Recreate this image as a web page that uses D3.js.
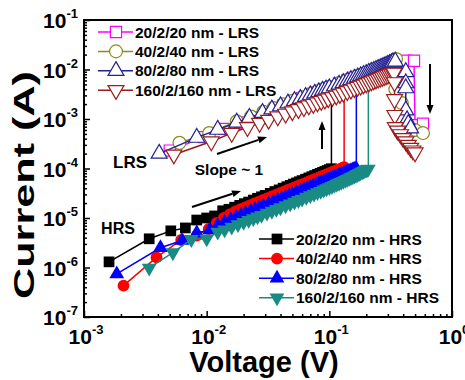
<!DOCTYPE html>
<html>
<head>
<meta charset="utf-8">
<script src="https://cdn.jsdelivr.net/npm/d3@7"></script>
<style>
body { margin: 0; background: #fff; }
svg { display: block; }
text { font-family: "Liberation Sans", Arial, sans-serif; font-weight: bold; }
</style>
</head>
<body>
<div id="chart"></div>
<script>
// tick labels (exponents of ten)
var xExponents = [-3, -2, -1, 0];
var yExponents = [-7, -6, -5, -4, -3, -2, -1];

// HRS sweeps: [voltage (V), current (A)]
var hrs20 = [[0.0016,1.3e-6],[0.0034,3.8e-6],[0.0051,5.5e-6],[0.0067,6.3e-6],[0.0083,9.1e-6],[0.0100,1.0e-5],
  [0.0116,1.1e-5],[0.0135,1.4e-5],[0.0152,1.5e-5],[0.0169,1.65e-5],[0.0186,1.8e-5],[0.0203,1.95e-5],[0.022,2.1e-5],
  [0.024,2.3e-5],[0.026,2.5e-5],[0.028,2.68e-5],[0.030,2.86e-5],[0.033,3.15e-5],[0.036,3.43e-5],[0.039,3.7e-5],
  [0.042,4.0e-5],[0.045,4.28e-5],[0.048,4.56e-5],[0.051,4.85e-5],[0.054,5.12e-5],[0.057,5.4e-5],[0.060,5.7e-5],
  [0.064,6.07e-5],[0.068,6.45e-5],[0.072,6.83e-5],[0.076,7.2e-5],[0.080,7.6e-5],[0.084,7.97e-5],[0.088,8.35e-5],
  [0.092,8.72e-5],[0.096,9.1e-5],[0.100,9.5e-5],[0.104,9.9e-5]];
var hrs40 = [[0.0021,4.3e-7],[0.0039,1.6e-6],[0.0062,3.6e-6],[0.0083,4.4e-6],[0.0104,6.0e-6],[0.0121,8.0e-6],
  [0.0138,1.0e-5],[0.0155,1.2e-5],[0.0172,1.36e-5],[0.0189,1.5e-5],[0.0206,1.64e-5],[0.0225,1.8e-5],[0.0245,1.96e-5],
  [0.0265,2.12e-5],[0.0285,2.28e-5],[0.031,2.48e-5],[0.034,2.72e-5],[0.037,2.96e-5],[0.040,3.2e-5],[0.043,3.44e-5],
  [0.046,3.68e-5],[0.049,3.92e-5],[0.052,4.16e-5],[0.055,4.4e-5],[0.058,4.64e-5],[0.062,4.96e-5],[0.066,5.28e-5],
  [0.070,5.6e-5],[0.074,5.92e-5],[0.078,6.24e-5],[0.082,6.56e-5],[0.086,6.88e-5],[0.090,7.2e-5],[0.094,7.52e-5],
  [0.098,7.84e-5],[0.102,8.16e-5],[0.106,8.5e-5],[0.110,8.8e-5],[0.114,9.1e-5],[0.118,9.45e-5],[0.122,9.75e-5],
  [0.126,1.0e-4],[0.130,1.04e-4],[0.132,1.06e-4]];
var hrs80 = [[0.00185,7.4e-7],[0.0042,2.5e-6],[0.0063,3.5e-6],[0.0083,5.0e-6],[0.0106,5.7e-6],[0.0123,7.0e-6],
  [0.014,8.1e-6],[0.0157,9.2e-6],[0.0174,1.03e-5],[0.0191,1.13e-5],[0.0208,1.24e-5],[0.0228,1.36e-5],[0.0248,1.48e-5],
  [0.0268,1.6e-5],[0.029,1.73e-5],[0.032,1.91e-5],[0.035,2.09e-5],[0.038,2.27e-5],[0.041,2.45e-5],[0.044,2.63e-5],
  [0.047,2.81e-5],[0.050,2.99e-5],[0.054,3.23e-5],[0.058,3.47e-5],[0.062,3.7e-5],[0.066,3.94e-5],[0.070,4.18e-5],
  [0.074,4.42e-5],[0.078,4.66e-5],[0.082,4.9e-5],[0.086,5.14e-5],[0.090,5.38e-5],[0.094,5.62e-5],[0.098,5.86e-5],
  [0.102,6.1e-5],[0.106,6.34e-5],[0.110,6.58e-5],[0.114,6.82e-5],[0.118,7.06e-5],[0.122,7.3e-5],[0.126,7.54e-5],
  [0.130,7.78e-5],[0.134,8.0e-5],[0.138,8.25e-5],[0.142,8.5e-5],[0.146,8.7e-5],[0.150,8.95e-5],[0.154,9.2e-5],
  [0.158,9.45e-5],[0.162,9.7e-5],[0.166,9.9e-5]];
var hrs160 = [[0.0034,9.8e-7],[0.0053,2.0e-6],[0.0075,3.7e-6],[0.0100,3.8e-6],[0.0123,5.2e-6],[0.014,5.8e-6],
  [0.016,6.6e-6],[0.018,7.4e-6],[0.020,8.2e-6],[0.022,9.0e-6],[0.024,9.8e-6],[0.026,1.06e-5],[0.028,1.14e-5],
  [0.031,1.26e-5],[0.034,1.38e-5],[0.037,1.5e-5],[0.040,1.62e-5],[0.044,1.78e-5],[0.048,1.94e-5],[0.052,2.1e-5],
  [0.056,2.27e-5],[0.060,2.43e-5],[0.065,2.64e-5],[0.070,2.85e-5],[0.075,3.06e-5],[0.080,3.27e-5],[0.085,3.48e-5],
  [0.090,3.7e-5],[0.095,3.92e-5],[0.100,4.14e-5],[0.105,4.36e-5],[0.110,4.6e-5],[0.115,4.83e-5],[0.120,5.06e-5],
  [0.125,5.3e-5],[0.130,5.54e-5],[0.135,5.78e-5],[0.140,6.03e-5],[0.145,6.28e-5],[0.150,6.54e-5],[0.155,6.8e-5],
  [0.160,7.07e-5],[0.165,7.34e-5],[0.170,7.62e-5],[0.175,7.9e-5],[0.180,8.2e-5],[0.185,8.5e-5],[0.190,8.8e-5],
  [0.195,9.1e-5],[0.200,9.4e-5],[0.204,9.6e-5],[0.208,9.8e-5]];

// current reached at the set jump for each HRS sweep
var setTop = [2.2e-3, 3.2e-3, 3.7e-3, 4.6e-3];

// LRS sweeps: [voltage (V), current (A)], including the reset drop
var lrs20 = [[0.005,2.3e-4],[0.0095,4.3e-4],[0.014,6.3e-4],[0.019,8.5e-4],[0.024,1.07e-3],[0.030,1.33e-3],
  [0.036,1.59e-3],[0.042,1.85e-3],[0.050,2.2e-3],[0.060,2.62e-3],[0.070,3.05e-3],[0.080,3.47e-3],[0.090,3.9e-3],
  [0.100,4.3e-3],[0.120,5.15e-3],[0.140,6.0e-3],[0.160,6.8e-3],[0.180,7.6e-3],[0.200,8.4e-3],[0.220,9.2e-3],
  [0.240,1.0e-2],[0.260,1.08e-2],[0.280,1.16e-2],[0.300,1.24e-2],[0.320,1.32e-2],[0.340,1.42e-2],[0.420,1.5e-2],
  [0.490,1.5e-2],[0.500,7.5e-4],[0.580,8.0e-4]];
var lrs40 = [[0.006,3.3e-4],[0.0105,5.2e-4],[0.0176,9.0e-4],[0.023,1.12e-3],[0.029,1.4e-3],[0.035,1.67e-3],
  [0.042,1.98e-3],[0.050,2.33e-3],[0.060,2.76e-3],[0.070,3.2e-3],[0.080,3.62e-3],[0.090,4.05e-3],[0.100,4.47e-3],
  [0.120,5.3e-3],[0.140,6.15e-3],[0.160,7.0e-3],[0.180,7.85e-3],[0.200,8.7e-3],[0.220,9.55e-3],[0.240,1.04e-2],
  [0.260,1.13e-2],[0.280,1.22e-2],[0.300,1.32e-2],[0.320,1.42e-2],[0.350,1.63e-2],[0.345,4.0e-3],[0.390,2.1e-3],
  [0.500,6.0e-4],[0.580,5.2e-4]];
var lrs80 = [[0.0041,2.0e-4],[0.0083,4.2e-4],[0.0123,6.1e-4],[0.0176,8.5e-4],[0.0223,1.06e-3],[0.0285,1.33e-3],
  [0.034,1.57e-3],[0.040,1.82e-3],[0.046,2.07e-3],[0.052,2.32e-3],[0.058,2.56e-3],[0.064,2.8e-3],[0.070,3.03e-3],
  [0.076,3.26e-3],[0.082,3.5e-3],[0.088,3.72e-3],[0.094,3.95e-3],[0.100,4.18e-3],[0.110,4.57e-3],[0.120,4.96e-3],
  [0.130,5.36e-3],[0.140,5.76e-3],[0.150,6.16e-3],[0.160,6.56e-3],[0.170,6.96e-3],[0.180,7.36e-3],[0.190,7.77e-3],
  [0.200,8.18e-3],[0.210,8.6e-3],[0.220,9.0e-3],[0.230,9.42e-3],[0.240,9.84e-3],[0.250,1.03e-2],[0.260,1.07e-2],
  [0.270,1.11e-2],[0.280,1.16e-2],[0.290,1.2e-2],[0.300,1.25e-2],[0.310,1.3e-2],[0.320,1.35e-2],[0.330,1.4e-2],
  [0.345,1.45e-2],[0.420,8.9e-3],[0.420,5.3e-3],[0.420,4.2e-3],[0.420,1.5e-3],[0.430,9.5e-4],[0.440,8.0e-4],
  [0.460,6.5e-4]];
var lrs160 = [[0.0054,1.9e-4],[0.0109,3.5e-4],[0.016,5.2e-4],[0.0215,6.8e-4],[0.027,8.3e-4],[0.032,9.6e-4],
  [0.038,1.12e-3],[0.044,1.27e-3],[0.050,1.42e-3],[0.056,1.57e-3],[0.062,1.72e-3],[0.068,1.87e-3],[0.074,2.0e-3],
  [0.080,2.15e-3],[0.086,2.3e-3],[0.092,2.45e-3],[0.098,2.6e-3],[0.106,2.76e-3],[0.114,2.96e-3],[0.122,3.17e-3],
  [0.130,3.38e-3],[0.140,3.64e-3],[0.150,3.9e-3],[0.160,4.16e-3],[0.170,4.42e-3],[0.180,4.68e-3],[0.190,4.94e-3],
  [0.200,5.2e-3],[0.210,5.46e-3],[0.220,5.72e-3],[0.230,5.98e-3],[0.240,6.24e-3],[0.250,6.5e-3],[0.260,6.76e-3],
  [0.270,7.0e-3],[0.280,7.28e-3],[0.290,7.54e-3],[0.300,7.8e-3],[0.310,8.06e-3],[0.320,8.3e-3],[0.330,8.5e-3],
  [0.337,8.6e-3],[0.340,5.5e-3],[0.340,2.5e-3],[0.342,1.2e-3],[0.345,6.8e-4],[0.360,5.8e-4],[0.380,4.9e-4],
  [0.400,4.1e-4],[0.420,3.5e-4],[0.440,3.0e-4],[0.460,2.6e-4],[0.480,2.3e-4],[0.500,2.1e-4]];

var hrsNames = ["20/2/20 nm - HRS", "40/2/40 nm - HRS", "80/2/80 nm - HRS", "160/2/160 nm - HRS"];
var lrsNames = ["20/2/20 nm - LRS", "40/2/40 nm - LRS", "80/2/80 nm - LRS", "160/2/160 nm - LRS"];

var width = 465, height = 380;

var svg = d3.select("#chart").append("svg")
    .attr("width", width)
    .attr("height", height);

var x = d3.scaleLog().domain([1e-3, 1]).range([84, 452]);
var y = d3.scaleLog().domain([1e-7, 1e-1]).range([317, 20]);

var hrs = [
    {pts: hrs20, color: "#000000", shape: d3.symbolSquare, size: 115, flip: false},
    {pts: hrs40, color: "#ff0000", shape: d3.symbolCircle, size: 110, flip: false},
    {pts: hrs80, color: "#0000ff", shape: d3.symbolTriangle, size: 95, flip: false},
    {pts: hrs160, color: "#1a8a84", shape: d3.symbolTriangle, size: 95, flip: true}
];
var lrs = [
    {pts: lrs20, color: "#ff00ff", shape: d3.symbolSquare, size: 125, flip: false},
    {pts: lrs40, color: "#8c8c1c", shape: d3.symbolCircle, size: 130, flip: false},
    {pts: lrs80, color: "#22228f", shape: d3.symbolTriangle, size: 110, flip: false},
    {pts: lrs160, color: "#9b1c1c", shape: d3.symbolTriangle, size: 110, flip: true}
];

var line = d3.line()
    .x(function (d) { return x(d[0]); })
    .y(function (d) { return y(d[1]); });

function markerTransform(s, px, py) {
    return "translate(" + px + "," + py + ")" + (s.flip ? " rotate(180)" : "");
}

function drawSeries(s, open) {
    svg.append("path")
        .attr("d", line(s.pts))
        .attr("fill", "none")
        .attr("stroke", s.color)
        .attr("stroke-width", 1.5);
    svg.selectAll(null)
        .data(s.pts)
        .enter()
        .append("path")
        .attr("d", d3.symbol().type(s.shape).size(s.size))
        .attr("transform", function (d) { return markerTransform(s, x(d[0]), y(d[1])); })
        .attr("fill", open ? "#ffffff" : s.color)
        .attr("stroke", s.color)
        .attr("stroke-width", open ? 1.2 : 0);
}

// HRS curves with the set jump
hrs.forEach(function (s, i) {
    var last = s.pts[s.pts.length - 1];
    svg.append("line")
        .attr("x1", x(last[0])).attr("x2", x(last[0]))
        .attr("y1", y(last[1])).attr("y2", y(setTop[i]))
        .attr("stroke", s.color)
        .attr("stroke-width", 1.5);
    drawSeries(s, false);
});

lrs.forEach(function (s) { drawSeries(s, true); });

// axes: major ticks and minor ticks pointing inward
var xMajor = xExponents.map(function (e) { return Math.pow(10, e); });
var yMajor = yExponents.map(function (e) { return Math.pow(10, e); });
var xMinor = [], yMinor = [];
xExponents.slice(0, -1).forEach(function (e) {
    for (var k = 2; k < 10; k++) xMinor.push(k * Math.pow(10, e));
});
yExponents.slice(0, -1).forEach(function (e) {
    for (var k = 2; k < 10; k++) yMinor.push(k * Math.pow(10, e));
});

svg.append("g").attr("transform", "translate(0,317)")
    .call(d3.axisBottom(x).tickValues(xMajor).tickFormat("").tickSizeInner(-6).tickSizeOuter(0));
svg.append("g").attr("transform", "translate(0,317)")
    .call(d3.axisBottom(x).tickValues(xMinor).tickFormat("").tickSizeInner(-3).tickSizeOuter(0));
svg.append("g").attr("transform", "translate(84,0)")
    .call(d3.axisLeft(y).tickValues(yMajor).tickFormat("").tickSizeInner(-6).tickSizeOuter(0));
svg.append("g").attr("transform", "translate(84,0)")
    .call(d3.axisLeft(y).tickValues(yMinor).tickFormat("").tickSizeInner(-3).tickSizeOuter(0));
svg.selectAll(".tick line").attr("stroke-width", 1.5);
svg.selectAll(".domain").attr("stroke", "none");

// frame
svg.append("rect")
    .attr("x", 84).attr("y", 20)
    .attr("width", 452 - 84).attr("height", 317 - 20)
    .attr("fill", "none")
    .attr("stroke", "#000")
    .attr("stroke-width", 2);

// tick labels as 10 with superscript
xExponents.forEach(function (e) {
    var t = svg.append("text")
        .attr("x", x(Math.pow(10, e)) + 2)
        .attr("y", 344)
        .attr("text-anchor", "middle")
        .attr("font-size", 21);
    t.append("tspan").text("10");
    t.append("tspan").attr("dy", -10).attr("font-size", 13).text(e);
});
yExponents.forEach(function (e) {
    var t = svg.append("text")
        .attr("x", 78)
        .attr("y", y(Math.pow(10, e)) + 8)
        .attr("text-anchor", "end")
        .attr("font-size", 21);
    t.append("tspan").text("10");
    t.append("tspan").attr("dy", -10).attr("font-size", 13).text(e);
});

// axis titles
svg.append("text")
    .attr("x", 264).attr("y", 372)
    .attr("text-anchor", "middle")
    .attr("font-size", 29)
    .text("Voltage (V)");
svg.append("text")
    .attr("transform", "translate(34,185) rotate(-90)")
    .attr("text-anchor", "middle")
    .attr("font-size", 29)
    .attr("textLength", 228)
    .attr("lengthAdjust", "spacingAndGlyphs")
    .text("Current (A)");

// legends
function drawLegend(list, names, open, x0, y0, dy) {
    list.forEach(function (s, i) {
        var cy = y0 + i * dy;
        svg.append("line")
            .attr("x1", x0).attr("x2", x0 + 35)
            .attr("y1", cy).attr("y2", cy)
            .attr("stroke", s.color).attr("stroke-width", 1.5);
        svg.append("path")
            .attr("d", d3.symbol().type(s.shape).size(s.size))
            .attr("transform", markerTransform(s, x0 + 18, cy))
            .attr("fill", open ? "#ffffff" : s.color)
            .attr("stroke", s.color)
            .attr("stroke-width", open ? 1.2 : 0);
        svg.append("text")
            .attr("x", x0 + 37).attr("y", cy + 5.5)
            .attr("font-size", 15.5)
            .text(names[i]);
    });
}
drawLegend(lrs, lrsNames, true, 98, 32, 19.4);
drawLegend(hrs, hrsNames, false, 259, 239, 19.6);

// annotations
svg.append("text").attr("x", 130).attr("y", 168).attr("text-anchor", "middle").attr("font-size", 17).text("LRS");
svg.append("text").attr("x", 118).attr("y", 234).attr("text-anchor", "middle").attr("font-size", 16).text("HRS");
svg.append("text").attr("x", 229).attr("y", 175).attr("text-anchor", "middle").attr("font-size", 15.5).text("Slope ~ 1");

function arrow(x1, y1, x2, y2) {
    var a = Math.atan2(y2 - y1, x2 - x1), len = 9, w = 3.5;
    var bx = x2 - len * Math.cos(a), by = y2 - len * Math.sin(a);
    svg.append("line")
        .attr("x1", x1).attr("y1", y1).attr("x2", bx).attr("y2", by)
        .attr("stroke", "#000").attr("stroke-width", 2);
    svg.append("path")
        .attr("d", "M" + x2 + "," + y2 +
            "L" + (bx - w * Math.sin(a)) + "," + (by + w * Math.cos(a)) +
            "L" + (bx + w * Math.sin(a)) + "," + (by - w * Math.cos(a)) + "Z")
        .attr("fill", "#000");
}
arrow(322, 149, 322, 121);
arrow(430, 64, 430, 114);
arrow(217, 154, 267, 137);
arrow(192, 207, 241, 191);
</script>
</body>
</html>
